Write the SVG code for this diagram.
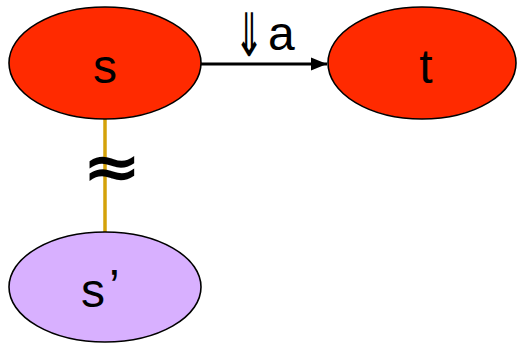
<svg xmlns="http://www.w3.org/2000/svg" width="517" height="344" viewBox="0 0 517 344">
  <defs>
    <style>
      .node { stroke: #000; stroke-width: 1.6; }
      .hot { fill: #FF2A00; }
      .soft { fill: #D8B0FF; }
      .lbl { font-family: "Liberation Sans", Arial, sans-serif; font-size: 48px; fill: #000; }
      .edge { stroke: #000; stroke-width: 3; fill: none; }
      .equiv { stroke: #D4A20A; stroke-width: 3.5; fill: none; }
    </style>
    <marker id="head" markerUnits="userSpaceOnUse" markerWidth="17" markerHeight="16" refX="16" refY="8" orient="auto">
      <path d="M0,1.5 L16,8 L0,14.5 Z" fill="#000"/>
    </marker>
  </defs>

  <!-- connectors -->
  <g id="connectors">
    <line class="equiv" x1="105" y1="119" x2="105" y2="232"/>
    <text x="112" y="188" text-anchor="middle" font-family="DejaVu Sans, sans-serif" font-size="62" font-weight="bold" transform="translate(112 170) scale(1.15 1) translate(-112 -170)">≈</text>
    <line class="edge" x1="201" y1="64" x2="327" y2="64" marker-end="url(#head)"/>
    <text font-family="DejaVu Sans, sans-serif" font-size="50" transform="translate(249 56) scale(0.72 1.2)" text-anchor="middle">⇓</text>
    <text class="lbl" x="268" y="50" font-size="44">a</text>
  </g>

  <g id="node-s">
    <ellipse class="node hot" cx="105" cy="63" rx="96" ry="56"/>
    <text class="lbl" x="105" y="83" text-anchor="middle">s</text>
  </g>

  <g id="node-t">
    <ellipse class="node hot" cx="422" cy="63" rx="94" ry="56"/>
    <text class="lbl" x="426" y="83" text-anchor="middle">t</text>
  </g>

  <g id="node-s2">
    <ellipse class="node soft" cx="105" cy="287" rx="96" ry="55"/>
    <text class="lbl" x="81" y="307">s<tspan dx="4" dy="-4">’</tspan></text>
  </g>
</svg>
